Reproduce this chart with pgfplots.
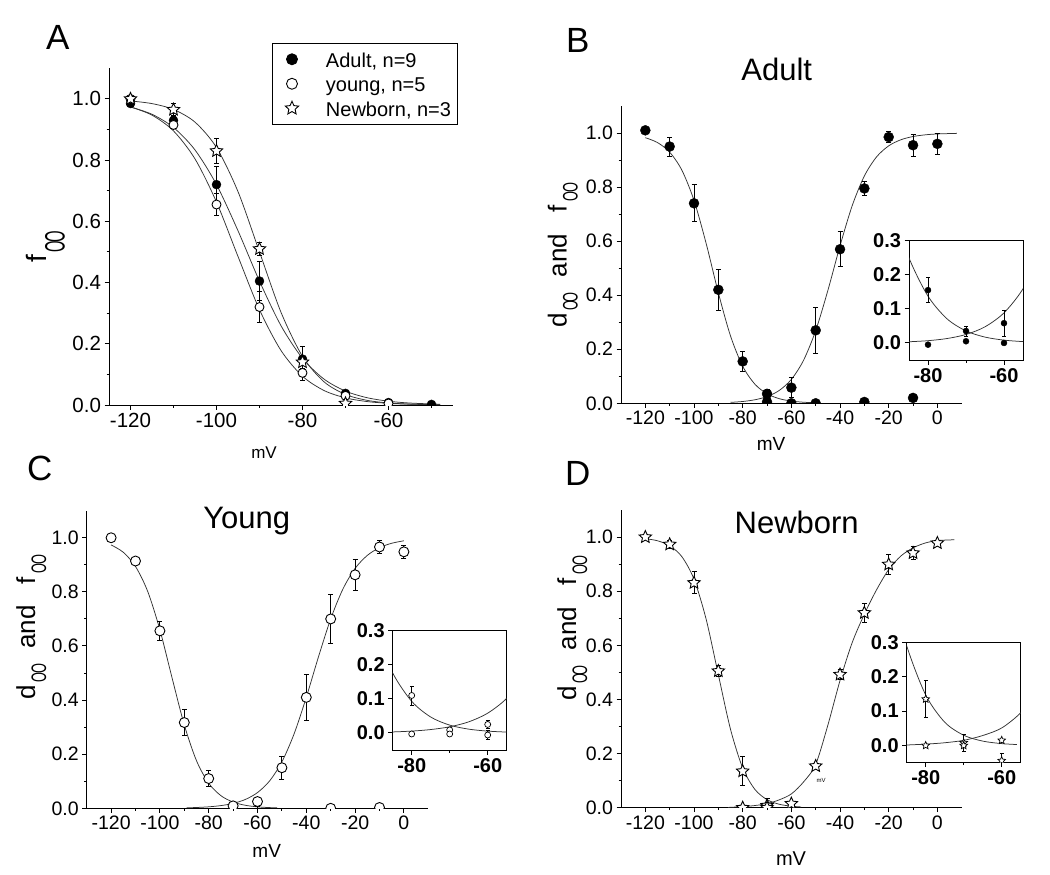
\documentclass[border=0pt]{standalone}
\usepackage{graphicx}
\usepackage{pgfplots}
\pgfplotsset{compat=1.18}
\usepackage{pgfplotstable}
\usepackage{fontspec}
\setmainfont{Liberation Sans}

\pgfdeclareplotmark{ostar}{%
  \pgfpathmoveto{\pgfpointpolar{90}{\pgfplotmarksize}}%
  \pgfpathlineto{\pgfpointscale{0.47}{\pgfpointpolar{126}{\pgfplotmarksize}}}%
  \pgfpathlineto{\pgfpointpolar{162}{\pgfplotmarksize}}%
  \pgfpathlineto{\pgfpointscale{0.47}{\pgfpointpolar{198}{\pgfplotmarksize}}}%
  \pgfpathlineto{\pgfpointpolar{234}{\pgfplotmarksize}}%
  \pgfpathlineto{\pgfpointscale{0.47}{\pgfpointpolar{270}{\pgfplotmarksize}}}%
  \pgfpathlineto{\pgfpointpolar{306}{\pgfplotmarksize}}%
  \pgfpathlineto{\pgfpointscale{0.47}{\pgfpointpolar{342}{\pgfplotmarksize}}}%
  \pgfpathlineto{\pgfpointpolar{18}{\pgfplotmarksize}}%
  \pgfpathlineto{\pgfpointscale{0.47}{\pgfpointpolar{54}{\pgfplotmarksize}}}%
  \pgfpathclose
  \pgfusepathqfillstroke
}

\newcommand\lstrut{\vrule height 17pt depth 5pt width 0pt}
% subscript "infinity" drawn as two narrow loops, as in the original figure
\newcommand\oo[3]{\raisebox{#2}{\fontsize{#1}{#1}\selectfont\scalebox{#3}[1]{O\kern-0.08em O}}}

% ---------------- Panel A data ----------------
\pgfplotstableread{
x y e
-120 0.985 0.01
-110 0.93 0.012
-100 0.72 0.06
-90 0.405 0.065
-80 0.15 0.04
-70 0.038 0.006
-60 0.008 0
-50 0.002 0
}\Aad
\pgfplotstableread{
x y e
-120 1.0 0
-110 0.915 0.01
-100 0.655 0.035
-90 0.32 0.05
-80 0.105 0.025
-70 0.03 0
-60 0.005 0
}\Ayo
\pgfplotstableread{
x y e
-120 1.0 0
-110 0.965 0.02
-100 0.83 0.04
-90 0.51 0.022
-80 0.14 0.02
-70 0.005 0
}\Anb
\pgfplotstableread{
x y
-120 0.9735
-115 0.9498
-110 0.9067
-105 0.8333
-100 0.7200
-95 0.5693
-90 0.4047
-85 0.2591
-80 0.1525
-75 0.0847
-70 0.0454
-65 0.0239
-60 0.0124
-55 0.0064
-48 0.0025
}\AadFit
\pgfplotstableread{
x y
-120 0.9739
-115 0.9470
-110 0.8954
-105 0.8040
-100 0.6629
-95 0.4853
-90 0.3113
-85 0.1781
-80 0.0941
-75 0.0474
-70 0.0233
-65 0.0113
-60 0.0055
-55 0.0026
-48 0.0009
}\AyoFit
\pgfplotstableread{
x y
-120 0.9933
-115 0.9847
-110 0.9655
-105 0.9241
-100 0.8411
-95 0.6971
-90 0.5000
-85 0.3029
-80 0.1589
-75 0.0759
-70 0.0345
-65 0.0153
-60 0.0067
-55 0.0029
-48 0.0009
}\AnbFit

% ---------------- Panel B data (Adult) ----------------
\pgfplotstableread{
x y e
-120 1.01 0
-110 0.95 0.035
-100 0.74 0.068
-90 0.42 0.075
-80 0.155 0.036
-70 0.035 0.015
-60 0.0 0
-50 0.0 0
-30 0.005 0
-10 0.02 0
}\Bf
\pgfplotstableread{
x y e
-80 -0.005 0
-70 0.005 0
-60 0.058 0.038
-50 0.27 0.085
-40 0.57 0.065
-30 0.795 0.025
-20 0.985 0.02
-10 0.955 0.04
0 0.96 0.04
}\Bd
\pgfplotstableread{
x y
-120 0.9828
-115 0.9647
-110 0.9292
-105 0.8627
-100 0.7508
-95 0.5910
-90 0.4090
-85 0.2492
-80 0.1373
-75 0.0709
-70 0.0353
-65 0.0172
-60 0.0083
-55 0.0040
-50 0.0019
}\BfFit
\pgfplotstableread{
x y
-85 0.0035
-80 0.0067
-75 0.0130
-70 0.0249
-65 0.0474
-60 0.0884
-55 0.1589
-50 0.2689
-45 0.4174
-40 0.5826
-35 0.7311
-30 0.8411
-25 0.9116
-20 0.9526
-15 0.9751
-10 0.9871
-5 0.9933
0 0.9966
8 0.9988
}\BdFit

% ---------------- Panel C data (Young) ----------------
\pgfplotstableread{
x y e
-120 1.0 0
-110 0.914 0.01
-100 0.656 0.035
-90 0.317 0.047
-80 0.11 0.028
-70 0.009 0.006
-60 -0.006 0.014
-30 0.0 0
-10 0.003 0
}\Cf
\pgfplotstableread{
x y e
-80 -0.003 0
-70 -0.003 0
-60 0.025 0.013
-50 0.15 0.043
-40 0.41 0.085
-30 0.70 0.09
-20 0.863 0.057
-10 0.966 0.025
0 0.948 0.025
}\Cd
\pgfplotstableread{
x y
-120 0.9735
-115 0.9463
-110 0.8940
-105 0.8017
-100 0.6597
-95 0.4816
-90 0.3082
-85 0.1759
-80 0.0928
-75 0.0468
-70 0.0230
-65 0.0112
-60 0.0054
-55 0.0026
-52 0.0017
}\CfFit
\pgfplotstableread{
x y
-89 0.0018
-85 0.0030
-80 0.0055
-75 0.0100
-70 0.0181
-65 0.0326
-60 0.0581
-55 0.1016
-50 0.1717
-45 0.2752
-40 0.4102
-35 0.5602
-30 0.7000
-25 0.8104
-20 0.8868
-15 0.9348
-10 0.9634
-5 0.9797
0 0.9888
}\CdFit

% ---------------- Panel D data (Newborn) ----------------
\pgfplotstableread{
x y e
-120 1.0 0
-110 0.973 0.015
-100 0.831 0.04
-90 0.505 0.02
-80 0.135 0.054
-70 0.008 0.025
-60 -0.044 0.02
}\Df
\pgfplotstableread{
x y e
-80 0.0 0
-70 0.0 0
-60 0.015 0
-50 0.154 0.01
-40 0.492 0.02
-30 0.72 0.035
-20 0.899 0.036
-10 0.941 0.025
0 0.978 0.01
}\Dd
\pgfplotstableread{
x y
-120 0.9942
-115 0.9863
-110 0.9681
-105 0.9277
-100 0.8442
-95 0.6959
-90 0.4914
-85 0.2897
-80 0.1469
-75 0.0678
-70 0.0298
-65 0.0128
-60 0.0055
-56 0.0028
}\DfFit
\pgfplotstableread{
x y
-86 0.001
-80 0.004
-75 0.008
-70 0.015
-65 0.029
-60 0.051
-55 0.095
-50 0.16
-45 0.305
-40 0.47
-35 0.61
-30 0.715
-25 0.805
-20 0.88
-15 0.93
-10 0.96
-5 0.978
0 0.987
7 0.99
}\DdFit

\pgfplotsset{
  base/.style={scale only axis, anchor=south west,
    axis line style={line width=1pt,-},
    tick style={line width=1pt,black},
    tick align=outside, major tick length=4.5pt, minor tick length=2.5pt,
    /pgf/number format/assume math mode=true,
    clip mode=individual, clip marker paths=true,
    yticklabel style={/pgf/number format/.cd, fixed, fixed zerofill, precision=1}},
  mainax/.style={base, axis x line*=bottom, axis y line*=left,
    tick label style={font=\fontsize{19.5}{22}\selectfont},
    ymin=0, ymax=1.1, ytick={0,0.2,0.4,0.6,0.8,1.0}, minor ytick={0.1,0.3,0.5,0.7,0.9}},
  wideax/.style={mainax, xmin=-130, xmax=10, xtick={-120,-100,-80,-60,-40,-20,0},
    minor xtick={-110,-90,-70,-50,-30,-10}},
  insetax/.style={base, axis background/.style={fill=white},
    axis line style={line width=0.9pt},
    xmin=-85, xmax=-55, ymin=-0.05, ymax=0.3, xtick={-80,-60}, minor xtick={-70},
    ytick={0,0.1,0.2,0.3}, xtick pos=left, ytick pos=left,
    tick label style={font=\fontsize{20}{22}\selectfont\bfseries}},
  curve/.style={black!80, line width=0.75pt, smooth, forget plot, mark=none},
  ebar/.style={only marks, mark=none, forget plot, error bars/.cd, y dir=both, y explicit,
    error bar style={line width=1pt, black},
    error mark options={rotate=90, mark size=2.5pt, line width=1pt, black}},
  ebarS/.style={only marks, mark=none, forget plot, error bars/.cd, y dir=both, y explicit,
    error bar style={line width=0.8pt, black},
    error mark options={rotate=90, mark size=1.8pt, line width=0.8pt, black}},
}

\begin{document}
\begin{tikzpicture}
\useasboundingbox (0pt,0pt) rectangle (1050pt,-875pt);

% ================= Panel A =================
\begin{axis}[mainax, at={(109pt,-405pt)}, width=344pt, height=336.7pt,
  tick label style={font=\fontsize{20.5}{23}\selectfont},
  xmin=-125, xmax=-45, xtick={-120,-100,-80,-60}, minor xtick={-110,-90,-70,-50},
  legend cell align=left,
  legend image code/.code={\path (0pt,-1pt) rectangle (32pt,1pt);
    \path[mark repeat=2,mark phase=2,#1,/tikz/only marks] plot coordinates {(0pt,0pt)(16pt,0pt)(32pt,0pt)};},
  legend style={at={(0.4738,1.0751)}, anchor=north west, draw=black, line width=1pt,
    inner xsep=3.5pt, inner ysep=3.5pt, font=\fontsize{20}{24}\selectfont,
    nodes={inner sep=3pt}, row sep=0pt, column sep=15pt}]
\addlegendimage{draw=none, mark=*, mark size=5.5pt, mark options={draw=black, fill=black, line width=0.9pt}}
\addlegendentry{\lstrut Adult, n=9}
\addlegendimage{draw=none, mark=*, mark size=5.5pt, mark options={draw=black, fill=white, line width=0.9pt}}
\addlegendentry{\lstrut young, n=5}
\addlegendimage{draw=none, mark=ostar, mark size=7pt, mark options={draw=black, fill=white, line width=0.9pt}}
\addlegendentry{\lstrut Newborn, n=3}
\addplot[curve] table[x=x,y=y]{\AadFit};
\addplot[curve] table[x=x,y=y]{\AyoFit};
\addplot[curve] table[x=x,y=y]{\AnbFit};
\addplot[restrict expr to domain={\thisrow{e}}{0.001:1}, ebar] table[x=x,y=y,y error=e]{\Aad};
\addplot[restrict expr to domain={\thisrow{e}}{0.001:1}, ebar] table[x=x,y=y,y error=e]{\Ayo};
\addplot[restrict expr to domain={\thisrow{e}}{0.001:1}, ebar] table[x=x,y=y,y error=e]{\Anb};
\addplot[only marks, mark=*, mark size=4.5pt, black, forget plot] table[x=x,y=y]{\Aad};
\addplot[only marks, mark=*, mark size=4.5pt, black, mark options={line width=0.9pt, fill=white}, forget plot] table[x=x,y=y]{\Ayo};
\addplot[only marks, mark=ostar, mark size=6.5pt, black, mark options={line width=0.9pt, fill=white}, forget plot] table[x=x,y=y]{\Anb};
\end{axis}

% ================= Panel B =================
\begin{axis}[wideax, at={(621pt,-403.3pt)}, width=340.7pt, height=297.3pt]
\addplot[curve] table[x=x,y=y]{\BfFit};
\addplot[curve] table[x=x,y=y]{\BdFit};
\addplot[restrict expr to domain={\thisrow{e}}{0.001:1}, ebar] table[x=x,y=y,y error=e]{\Bf};
\addplot[restrict expr to domain={\thisrow{e}}{0.001:1}, ebar] table[x=x,y=y,y error=e]{\Bd};
\addplot[only marks, mark=*, mark size=5pt, black] table[x=x,y=y]{\Bf};
\addplot[only marks, mark=*, mark size=5pt, black] table[x=x,y=y]{\Bd};
\end{axis}
\begin{axis}[insetax, at={(909pt,-360pt)}, width=114pt, height=119.3pt]
\addplot[curve] table[x=x,y=y]{\BfFit};
\addplot[curve] table[x=x,y=y]{\BdFit};
\addplot[restrict expr to domain={\thisrow{e}}{0.001:1}, ebarS] table[x=x,y=y,y error=e]{\Bf};
\addplot[restrict expr to domain={\thisrow{e}}{0.001:1}, ebarS] table[x=x,y=y,y error=e]{\Bd};
\addplot[only marks, mark=*, mark size=3pt, black] table[x=x,y=y]{\Bf};
\addplot[only marks, mark=*, mark size=3pt, black] table[x=x,y=y]{\Bd};
\end{axis}

% ================= Panel C =================
\begin{axis}[wideax, at={(86.7pt,-808.3pt)}, width=341.6pt, height=297.6pt]
\addplot[curve] table[x=x,y=y]{\CfFit};
\addplot[curve] table[x=x,y=y]{\CdFit};
\addplot[restrict expr to domain={\thisrow{e}}{0.001:1}, ebar] table[x=x,y=y,y error=e]{\Cf};
\addplot[restrict expr to domain={\thisrow{e}}{0.001:1}, ebar] table[x=x,y=y,y error=e]{\Cd};
\addplot[only marks, mark=*, mark size=5pt, black, mark options={line width=0.9pt, fill=white}] table[x=x,y=y]{\Cf};
\addplot[only marks, mark=*, mark size=5pt, black, mark options={line width=0.9pt, fill=white}] table[x=x,y=y]{\Cd};
\end{axis}
\begin{axis}[insetax, at={(392.7pt,-750pt)}, width=114pt, height=119.3pt]
\addplot[curve] table[x=x,y=y]{\CfFit};
\addplot[curve] table[x=x,y=y]{\CdFit};
\addplot[restrict expr to domain={\thisrow{e}}{0.001:1}, ebarS] table[x=x,y=y,y error=e]{\Cf};
\addplot[restrict expr to domain={\thisrow{e}}{0.001:1}, ebarS] table[x=x,y=y,y error=e]{\Cd};
\addplot[only marks, mark=*, mark size=3pt, black, mark options={line width=0.7pt, fill=white}] table[x=x,y=y]{\Cf};
\addplot[only marks, mark=*, mark size=3pt, black, mark options={line width=0.7pt, fill=white}] table[x=x,y=y]{\Cd};
\end{axis}

% ================= Panel D =================
\begin{axis}[wideax, at={(621pt,-807.7pt)}, width=340.7pt, height=297.7pt]
\addplot[curve] table[x=x,y=y]{\DfFit};
\addplot[curve] table[x=x,y=y]{\DdFit};
\addplot[restrict expr to domain={\thisrow{e}}{0.001:1}, ebar] table[x=x,y=y,y error=e]{\Df};
\addplot[restrict expr to domain={\thisrow{e}}{0.001:1}, ebar] table[x=x,y=y,y error=e]{\Dd};
\addplot[only marks, mark=ostar, mark size=6.5pt, black, mark options={line width=0.9pt, fill=white}] table[x=x,y=y]{\Df};
\addplot[only marks, mark=ostar, mark size=6.5pt, black, mark options={line width=0.9pt, fill=white}] table[x=x,y=y]{\Dd};
\end{axis}
\begin{axis}[insetax, at={(906.7pt,-762.7pt)}, width=114pt, height=120.4pt]
\addplot[curve] table[x=x,y=y]{\DfFit};
\addplot[curve] table[x=x,y=y]{\DdFit};
\addplot[restrict expr to domain={\thisrow{e}}{0.001:1}, ebarS] table[x=x,y=y,y error=e]{\Df};
\addplot[restrict expr to domain={\thisrow{e}}{0.001:1}, ebarS] table[x=x,y=y,y error=e]{\Dd};
\addplot[only marks, mark=ostar, mark size=4pt, black, mark options={line width=0.7pt, fill=white}] table[x=x,y=y]{\Df};
\addplot[only marks, mark=ostar, mark size=4pt, black, mark options={line width=0.7pt, fill=white}] table[x=x,y=y]{\Dd};
\end{axis}

% ================= Texts =================
\begin{scope}[every node/.style={inner sep=0pt}]
\node[anchor=base west, font=\fontsize{35}{40}\selectfont] at (46pt,-50pt) {A};
\node[anchor=base west, font=\fontsize{35}{40}\selectfont] at (566pt,-53pt) {B};
\node[anchor=base west, font=\fontsize{35}{40}\selectfont] at (27pt,-480pt) {C};
\node[anchor=base west, font=\fontsize{35}{40}\selectfont] at (565pt,-485pt) {D};

\node[anchor=base, font=\fontsize{31}{36}\selectfont] at (776.7pt,-81pt) {Adult};
\node[anchor=base, font=\fontsize{31}{36}\selectfont] at (246.7pt,-528.3pt) {Young};
\node[anchor=base, font=\fontsize{31}{36}\selectfont] at (796.7pt,-533.3pt) {Newborn};

\node[anchor=base, font=\fontsize{17}{20}\selectfont] at (264pt,-458pt) {mV};
\node[anchor=base, font=\fontsize{19}{22}\selectfont] at (771pt,-450pt) {mV};
\node[anchor=base, font=\fontsize{19}{22}\selectfont] at (266.7pt,-857pt) {mV};
\node[anchor=base, font=\fontsize{20}{24}\selectfont] at (791pt,-865pt) {mV};
\node[anchor=base, font=\fontsize{6}{7}\selectfont] at (821pt,-782pt) {mV};

\node[anchor=base, rotate=90, font=\fontsize{28}{32}\selectfont] at (46.7pt,-246.5pt) {f\hspace{2pt}\oo{28}{-18pt}{0.53}};
\node[anchor=base, rotate=90, font=\fontsize{26}{30}\selectfont] at (566.7pt,-255pt) {d\hspace{2pt}\oo{21}{-11pt}{0.61}\hspace{15pt}and\hspace{21pt}f\hspace{4pt}\oo{21}{-11pt}{0.61}};
\node[anchor=base, rotate=90, font=\fontsize{26}{30}\selectfont] at (35pt,-626.7pt) {d\hspace{2pt}\oo{21}{-11pt}{0.61}\hspace{15pt}and\hspace{21pt}f\hspace{4pt}\oo{21}{-11pt}{0.61}};
\node[anchor=base, rotate=90, font=\fontsize{26}{30}\selectfont] at (576pt,-628pt) {d\hspace{2pt}\oo{21}{-11pt}{0.61}\hspace{15pt}and\hspace{21pt}f\hspace{4pt}\oo{21}{-11pt}{0.61}};
\end{scope}
\end{tikzpicture}
\end{document}
